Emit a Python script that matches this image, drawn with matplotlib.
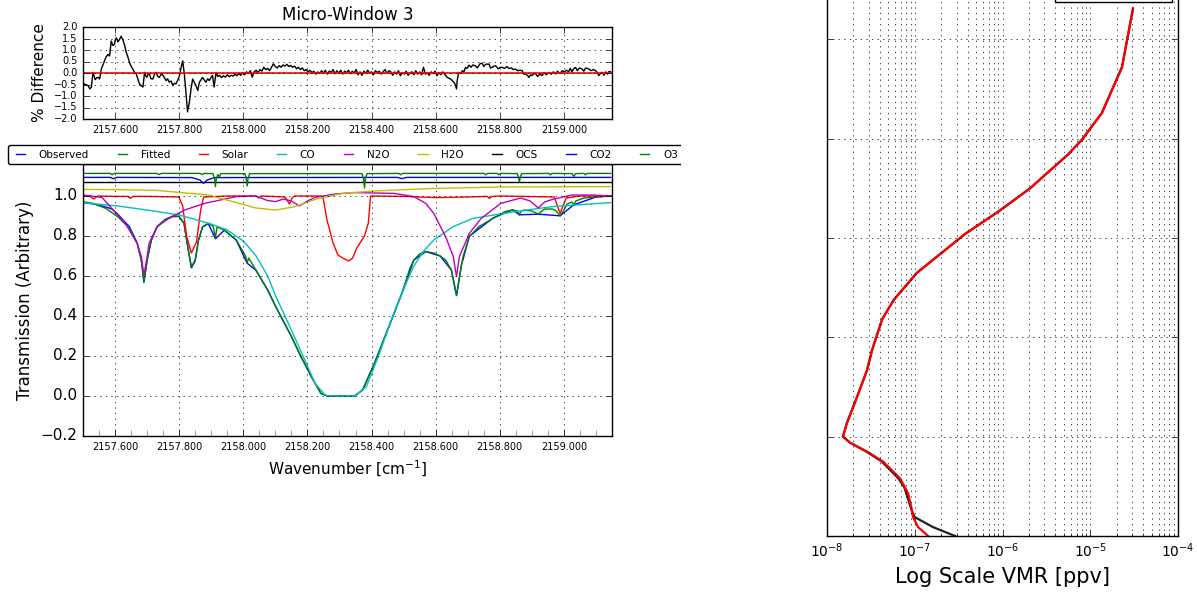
import matplotlib
matplotlib.use('Agg')
import matplotlib.pyplot as plt
from matplotlib.patches import Rectangle
from matplotlib.ticker import FormatStrFormatter, FuncFormatter, MultipleLocator

# Residual of the fit, percent
resid_wn = [
    2157.500, 2157.510, 2157.516, 2157.521, 2157.526, 2157.531, 2157.535,
    2157.538, 2157.543, 2157.547, 2157.552, 2157.557, 2157.562, 2157.567,
    2157.572, 2157.578, 2157.583, 2157.588, 2157.593, 2157.598, 2157.601,
    2157.604, 2157.609, 2157.614, 2157.619, 2157.622, 2157.624, 2157.630,
    2157.635, 2157.640, 2157.645, 2157.650, 2157.655, 2157.660, 2157.666,
    2157.671, 2157.676, 2157.681, 2157.687, 2157.692, 2157.695, 2157.699,
    2157.703, 2157.707, 2157.712, 2157.718, 2157.723, 2157.728, 2157.733,
    2157.738, 2157.744, 2157.749, 2157.754, 2157.759, 2157.764, 2157.769,
    2157.775, 2157.780, 2157.785, 2157.790, 2157.796, 2157.801, 2157.806,
    2157.811, 2157.816, 2157.821, 2157.826, 2157.832, 2157.837, 2157.842,
    2157.847, 2157.852, 2157.858, 2157.863, 2157.868, 2157.873, 2157.878,
    2157.883, 2157.889, 2157.894, 2157.899, 2157.904, 2157.909, 2157.915,
    2157.920, 2157.926, 2157.932, 2157.938, 2157.944, 2157.950, 2157.956,
    2157.962, 2157.968, 2157.974, 2157.980, 2157.986, 2157.992, 2157.998,
    2158.004, 2158.010, 2158.016, 2158.022, 2158.028, 2158.034, 2158.040,
    2158.046, 2158.052, 2158.058, 2158.064, 2158.070, 2158.076, 2158.082,
    2158.088, 2158.094, 2158.100, 2158.106, 2158.112, 2158.118, 2158.124,
    2158.130, 2158.136, 2158.142, 2158.148, 2158.154, 2158.160, 2158.166,
    2158.172, 2158.178, 2158.184, 2158.190, 2158.196, 2158.202, 2158.208,
    2158.214, 2158.220, 2158.226, 2158.232, 2158.238, 2158.244, 2158.250,
    2158.256, 2158.262, 2158.268, 2158.274, 2158.280, 2158.286, 2158.292,
    2158.298, 2158.304, 2158.310, 2158.316, 2158.322, 2158.328, 2158.334,
    2158.340, 2158.346, 2158.352, 2158.358, 2158.364, 2158.370, 2158.376,
    2158.382, 2158.388, 2158.394, 2158.400, 2158.406, 2158.412, 2158.418,
    2158.424, 2158.430, 2158.436, 2158.442, 2158.448, 2158.454, 2158.460,
    2158.466, 2158.472, 2158.478, 2158.484, 2158.490, 2158.496, 2158.502,
    2158.508, 2158.514, 2158.520, 2158.526, 2158.532, 2158.538, 2158.544,
    2158.550, 2158.556, 2158.562, 2158.568, 2158.574, 2158.580, 2158.586,
    2158.592, 2158.598, 2158.604, 2158.610, 2158.616, 2158.622, 2158.628,
    2158.636, 2158.645, 2158.652, 2158.660, 2158.665, 2158.667, 2158.672,
    2158.678, 2158.683, 2158.688, 2158.693, 2158.698, 2158.704, 2158.710,
    2158.716, 2158.724, 2158.730, 2158.738, 2158.745, 2158.750, 2158.756,
    2158.766, 2158.771, 2158.776, 2158.782, 2158.787, 2158.795, 2158.802,
    2158.808, 2158.815, 2158.822, 2158.828, 2158.836, 2158.842, 2158.849,
    2158.856, 2158.862, 2158.870, 2158.875, 2158.880, 2158.886, 2158.891,
    2158.896, 2158.901, 2158.906, 2158.912, 2158.918, 2158.924, 2158.932,
    2158.938, 2158.945, 2158.953, 2158.960, 2158.967, 2158.974, 2158.980,
    2158.988, 2158.995, 2159.002, 2159.008, 2159.015, 2159.020, 2159.025,
    2159.030, 2159.036, 2159.042, 2159.048, 2159.057, 2159.062, 2159.068,
    2159.078, 2159.085, 2159.092, 2159.099, 2159.104, 2159.109, 2159.114,
    2159.119, 2159.125, 2159.130, 2159.136, 2159.140, 2159.145]
resid_pct = [
    -0.47, -0.51, -0.55, -0.69, -0.62, 0.03, -0.15,
    -0.29, -0.20, -0.19, -0.26, 0.17, 0.35, 0.53,
    0.70, 0.81, 0.74, 1.39, 1.20, 1.24, 1.45,
    1.53, 1.35, 1.46, 1.60, 1.50, 1.46, 1.20,
    0.89, 0.70, 0.46, 0.30, 0.17, 0.05, -0.04,
    -0.25, -0.47, -0.55, -0.61, 0.03, -0.10, -0.19,
    -0.05, -0.04, -0.25, -0.26, -0.05, 0.03, -0.15,
    -0.19, -0.05, -0.09, -0.20, -0.33, -0.25, -0.40,
    -0.35, -0.54, -0.45, -0.47, -0.30, -0.11, 0.24,
    0.53, -0.04, -0.83, -1.69, -1.26, -0.69, -0.26,
    -0.40, -0.54, -0.76, -0.40, -0.30, -0.19, -0.30,
    -0.40, -0.25, -0.33, -0.20, -0.11, -0.61, 0.03,
    -0.15, -0.10, -0.20, -0.12, -0.18, -0.08, -0.16,
    -0.10, -0.14, -0.05, -0.12, -0.02, -0.10, 0.02,
    -0.08, 0.05, -0.02, 0.10, -0.18, 0.05, 0.12,
    0.00, 0.15, 0.08, 0.25, 0.15, 0.20, 0.10,
    0.25, 0.40, 0.28, 0.22, 0.32, 0.25, 0.35,
    0.30, 0.38, 0.28, 0.33, 0.25, 0.30, 0.18,
    0.25, 0.15, 0.22, 0.10, 0.15, 0.05, 0.12,
    0.02, 0.08, -0.05, 0.05, -0.02, 0.10, 0.00,
    0.12, -0.05, 0.08, 0.02, 0.15, -0.03, 0.10,
    0.00, 0.12, -0.05, 0.08, 0.02, 0.12, -0.03,
    0.08, 0.00, 0.15, -0.08, 0.05, -0.10, 0.08,
    -0.02, 0.12, 0.00, 0.05, -0.08, 0.10, 0.02,
    0.08, -0.05, 0.05, 0.15, -0.02, 0.10, 0.05,
    -0.10, 0.05, -0.05, 0.10, -0.12, 0.02, -0.05,
    0.08, -0.10, 0.00, 0.05, -0.08, 0.10, -0.05,
    0.05, -0.08, 0.25, -0.05, 0.02, -0.10, 0.05,
    -0.03, 0.08, -0.12, 0.02, -0.08, 0.05, -0.05,
    -0.19, -0.25, -0.33, -0.47, -0.69, -0.33, 0.03,
    -0.02, 0.10, 0.05, 0.24, 0.20, 0.34, 0.25,
    0.35, 0.31, 0.22, 0.40, 0.43, 0.28, 0.38,
    0.39, 0.22, 0.24, 0.30, 0.31, 0.18, 0.25,
    0.24, 0.20, 0.28, 0.20, 0.22, 0.15, 0.17,
    0.10, 0.12, 0.10, -0.05, -0.04, -0.10, -0.19,
    -0.08, -0.11, -0.02, -0.04, -0.15, -0.05, -0.11,
    0.02, -0.08, 0.03, -0.05, 0.05, -0.04, 0.08,
    -0.02, 0.10, 0.05, 0.12, 0.06, 0.20, 0.05,
    0.18, 0.24, 0.10, 0.22, 0.17, 0.08, 0.22,
    0.17, 0.10, 0.15, 0.10, 0.02, -0.11, -0.02,
    0.03, -0.10, 0.05, -0.05, 0.06, 0.06]

# Fitted spectrum
fit_wn = [
    2157.499, 2157.534, 2157.571, 2157.608, 2157.645, 2157.669, 2157.682,
    2157.690, 2157.700, 2157.713, 2157.731, 2157.756, 2157.780, 2157.799,
    2157.815, 2157.827, 2157.838, 2157.850, 2157.860, 2157.873, 2157.891,
    2157.906, 2157.913, 2157.918, 2157.941, 2157.978, 2158.007, 2158.012,
    2158.017, 2158.039, 2158.076, 2158.101, 2158.150, 2158.175, 2158.212,
    2158.242, 2158.261, 2158.347, 2158.372, 2158.409, 2158.458, 2158.495,
    2158.508, 2158.520, 2158.532, 2158.550, 2158.569, 2158.594, 2158.614,
    2158.631, 2158.649, 2158.659, 2158.665, 2158.671, 2158.680, 2158.686,
    2158.705, 2158.735, 2158.779, 2158.816, 2158.840, 2158.855, 2158.861,
    2158.866, 2158.877, 2158.900, 2158.920, 2158.940, 2158.964, 2158.976,
    2158.988, 2159.000, 2159.010, 2159.025, 2159.031, 2159.037, 2159.062,
    2159.100, 2159.146]
fit_trans = [
    0.972, 0.962, 0.938, 0.897, 0.838, 0.763, 0.680,
    0.572, 0.680, 0.780, 0.847, 0.883, 0.900, 0.900,
    0.863, 0.747, 0.647, 0.680, 0.780, 0.847, 0.863,
    0.848, 0.790, 0.845, 0.830, 0.780, 0.700, 0.665,
    0.690, 0.630, 0.530, 0.447, 0.297, 0.213, 0.097,
    0.013, 0.000, 0.000, 0.030, 0.163, 0.363, 0.515,
    0.580, 0.640, 0.680, 0.710, 0.722, 0.715, 0.700,
    0.680, 0.630, 0.550, 0.505, 0.560, 0.650, 0.700,
    0.797, 0.847, 0.888, 0.922, 0.930, 0.925, 0.905,
    0.925, 0.930, 0.925, 0.910, 0.935, 0.935, 0.925,
    0.900, 0.930, 0.960, 0.970, 0.955, 0.975, 0.990,
    0.995, 1.000]

# Observed spectrum
obs_wn = [
    2157.499, 2157.534, 2157.571, 2157.590, 2157.608, 2157.625, 2157.645,
    2157.669, 2157.682, 2157.690, 2157.700, 2157.713, 2157.731, 2157.756,
    2157.780, 2157.799, 2157.815, 2157.827, 2157.838, 2157.850, 2157.860,
    2157.873, 2157.891, 2157.913, 2157.941, 2157.978, 2158.012, 2158.039,
    2158.076, 2158.101, 2158.150, 2158.175, 2158.212, 2158.242, 2158.261,
    2158.347, 2158.372, 2158.409, 2158.458, 2158.495, 2158.532, 2158.569,
    2158.614, 2158.649, 2158.665, 2158.680, 2158.705, 2158.779, 2158.840,
    2158.861, 2158.920, 2158.988, 2159.031, 2159.100, 2159.146]
obs_trans = [
    0.967, 0.960, 0.945, 0.935, 0.910, 0.880, 0.846,
    0.765, 0.678, 0.568, 0.677, 0.778, 0.845, 0.881,
    0.897, 0.898, 0.864, 0.742, 0.641, 0.676, 0.777,
    0.845, 0.861, 0.786, 0.829, 0.779, 0.664, 0.630,
    0.530, 0.447, 0.298, 0.213, 0.097, 0.013, 0.000,
    0.000, 0.030, 0.163, 0.363, 0.515, 0.680, 0.722,
    0.700, 0.630, 0.502, 0.652, 0.799, 0.890, 0.931,
    0.906, 0.909, 0.901, 0.956, 0.995, 1.000]

solar_wn = [
    2157.499, 2157.520, 2157.534, 2157.545, 2157.600, 2157.640, 2157.648,
    2157.656, 2157.700, 2157.799, 2157.811, 2157.823, 2157.838, 2157.854,
    2157.867, 2157.876, 2157.950, 2158.040, 2158.048, 2158.056, 2158.130,
    2158.144, 2158.152, 2158.160, 2158.242, 2158.249, 2158.261, 2158.280,
    2158.295, 2158.310, 2158.329, 2158.341, 2158.354, 2158.366, 2158.378,
    2158.390, 2158.397, 2158.500, 2158.550, 2158.600, 2158.700, 2158.760,
    2158.768, 2158.776, 2158.800, 2158.970, 2158.988, 2159.007, 2159.050,
    2159.146]
solar_trans = [
    1.000, 1.000, 0.985, 1.000, 0.998, 0.998, 0.988,
    0.998, 0.998, 0.995, 0.950, 0.800, 0.715, 0.770,
    0.930, 0.995, 1.000, 1.000, 0.990, 1.000, 0.995,
    0.960, 0.990, 1.000, 1.000, 0.990, 0.880, 0.765,
    0.705, 0.690, 0.675, 0.690, 0.740, 0.770, 0.800,
    0.865, 1.000, 0.998, 0.995, 0.992, 0.995, 0.998,
    0.988, 0.998, 1.000, 0.995, 0.913, 0.990, 1.000,
    1.000]

co_wn = [
    2157.499, 2157.608, 2157.700, 2157.800, 2157.900, 2157.950, 2158.000,
    2158.040, 2158.076, 2158.101, 2158.150, 2158.187, 2158.224, 2158.255,
    2158.270, 2158.347, 2158.384, 2158.421, 2158.458, 2158.495, 2158.508,
    2158.532, 2158.560, 2158.594, 2158.655, 2158.716, 2158.840, 2158.964,
    2159.146]
co_trans = [
    0.967, 0.950, 0.930, 0.905, 0.860, 0.830, 0.775,
    0.700, 0.600, 0.500, 0.330, 0.197, 0.063, 0.005,
    0.000, 0.000, 0.047, 0.197, 0.363, 0.513, 0.565,
    0.650, 0.720, 0.780, 0.847, 0.888, 0.920, 0.947,
    0.967]

n2o_wn = [
    2157.499, 2157.559, 2157.632, 2157.669, 2157.682, 2157.690, 2157.700,
    2157.706, 2157.731, 2157.768, 2157.817, 2157.879, 2157.978, 2158.039,
    2158.076, 2158.101, 2158.125, 2158.150, 2158.175, 2158.200, 2158.224,
    2158.286, 2158.347, 2158.471, 2158.532, 2158.569, 2158.594, 2158.631,
    2158.655, 2158.665, 2158.674, 2158.705, 2158.742, 2158.803, 2158.865,
    2158.895, 2158.920, 2158.940, 2158.964, 2159.025, 2159.087, 2159.146]
n2o_trans = [
    1.005, 0.993, 0.863, 0.763, 0.697, 0.605, 0.697,
    0.763, 0.847, 0.888, 0.930, 0.963, 0.997, 1.000,
    0.977, 0.972, 0.985, 0.975, 0.950, 0.975, 0.993,
    1.010, 1.017, 1.013, 0.997, 0.963, 0.913, 0.797,
    0.697, 0.597, 0.697, 0.813, 0.888, 0.963, 0.990,
    0.975, 0.940, 0.970, 0.983, 1.005, 1.005, 1.000]

h2o_wn = [
    2157.499, 2157.600, 2157.731, 2157.800, 2157.891, 2157.978, 2158.039,
    2158.101, 2158.162, 2158.224, 2158.310, 2158.409, 2158.594, 2158.800,
    2159.146]
h2o_trans = [
    1.033, 1.032, 1.028, 1.018, 1.005, 0.967, 0.940,
    0.930, 0.947, 0.983, 1.013, 1.025, 1.038, 1.045,
    1.047]

ocs_wn = [2157.499, 2159.146]
ocs_trans = [1.072, 1.072]

co2_wn = [
    2157.499, 2157.585, 2157.595, 2157.605, 2157.840, 2157.865, 2157.876,
    2157.887, 2157.910, 2158.480, 2158.495, 2158.510, 2159.146]
co2_trans = [
    1.093, 1.093, 1.086, 1.093, 1.092, 1.080, 1.063,
    1.080, 1.092, 1.093, 1.087, 1.093, 1.093]

o3_wn = [
    2157.499, 2157.585, 2157.591, 2157.597, 2157.730, 2157.737, 2157.744,
    2157.866, 2157.872, 2157.878, 2157.905, 2157.910, 2157.913, 2157.916,
    2157.921, 2157.925, 2157.930, 2158.005, 2158.009, 2158.012, 2158.015,
    2158.020, 2158.370, 2158.375, 2158.378, 2158.381, 2158.386, 2158.486,
    2158.491, 2158.496, 2158.751, 2158.756, 2158.761, 2158.792, 2158.797,
    2158.802, 2158.855, 2158.858, 2158.861, 2158.864, 2158.868, 2158.953,
    2158.958, 2158.963, 2159.026, 2159.031, 2159.036, 2159.062, 2159.067,
    2159.072, 2159.146]
o3_trans = [
    1.113, 1.113, 1.106, 1.113, 1.113, 1.107, 1.113,
    1.113, 1.107, 1.113, 1.112, 1.090, 1.047, 1.090,
    1.108, 1.095, 1.112, 1.112, 1.090, 1.050, 1.090,
    1.112, 1.112, 1.090, 1.040, 1.090, 1.112, 1.113,
    1.106, 1.113, 1.113, 1.106, 1.113, 1.113, 1.106,
    1.113, 1.112, 1.095, 1.070, 1.095, 1.112, 1.113,
    1.106, 1.113, 1.112, 1.097, 1.112, 1.113, 1.106,
    1.113, 1.113]

# Spectral grid markers along the bottom of the transmission plot
grid_marks = [2157.55 + 0.05 * i for i in range(32)]

# OCS profile: altitude (km) and VMR (ppv)
alt_apriori = [0.0, 0.9, 1.9, 2.6, 4.3, 4.9, 5.8, 7.5, 8.5, 9.4, 10.0, 11.4,
               14.0, 16.7, 18.7, 21.8, 23.8, 26.5, 30.4, 32.7, 35.0, 38.4,
               39.9, 42.6, 47.2, 51.5, 53.1]
vmr_apriori = [2.88e-7, 1.61e-7, 1.0e-7, 9.2e-8, 8.0e-8, 7.6e-8, 6.5e-8,
               4.2e-8, 2.8e-8, 1.83e-8, 1.52e-8, 1.69e-8, 2.2e-8, 2.86e-8,
               3.26e-8, 4.24e-8, 5.8e-8, 1.06e-7, 3.74e-7, 9.1e-7, 2.06e-6,
               5.57e-6, 8.05e-6, 1.36e-5, 2.3e-5, 2.84e-5, 3.07e-5]
alt_retr = [0.0, 0.9, 1.9, 2.6, 4.3, 5.8, 7.5, 8.5, 9.4, 10.0, 11.4, 14.0,
            16.7, 18.7, 21.8, 23.8, 26.5, 30.4, 32.7, 35.0, 38.4, 39.9, 42.6,
            47.2, 51.5, 53.1]
vmr_retr = [1.42e-7, 1.09e-7, 9.55e-8, 9.3e-8, 8.4e-8, 6.8e-8, 4.35e-8,
            2.86e-8, 1.83e-8, 1.52e-8, 1.69e-8, 2.2e-8, 2.86e-8, 3.26e-8,
            4.24e-8, 5.8e-8, 1.06e-7, 3.74e-7, 9.1e-7, 2.06e-6, 5.57e-6,
            8.05e-6, 1.36e-5, 2.3e-5, 2.84e-5, 3.07e-5]


plt.style.use('classic')
plt.rcParams['figure.facecolor'] = 'white'
plt.rcParams['savefig.facecolor'] = 'white'

W, H = 1197., 599.
fig = plt.figure(figsize=(W / 100., H / 100.), dpi=100)

# one decimal, with a proper minus sign
one_dec = FuncFormatter(lambda v, pos: ('%.1f' % v).replace('-', '\u2212'))

def px_axes(left, top, right, bottom):
    return fig.add_axes([left / W, 1. - bottom / H,
                         (right - left) / W, (bottom - top) / H])

# Residual panel
ax1 = px_axes(83, 27, 612, 119)
ax1.plot(resid_wn, resid_pct, 'k-', lw=1)
ax1.axhline(0., color='r', lw=1.2)
ax1.set_xlim(2157.5, 2159.15)
ax1.set_ylim(-2., 2.)
ax1.xaxis.set_major_locator(MultipleLocator(0.2))
ax1.xaxis.set_major_formatter(FormatStrFormatter('%.3f'))
ax1.yaxis.set_major_locator(MultipleLocator(0.5))
ax1.yaxis.set_major_formatter(one_dec)
ax1.tick_params(labelsize=7)
ax1.grid(True)
ax1.set_ylabel('% Difference', fontsize=11)
ax1.set_title('Micro-Window 3', fontsize=12)

# Transmission panel
ax2 = px_axes(83, 164, 612, 436)
ax2.plot(obs_wn, obs_trans, 'b', label='Observed')
ax2.plot(fit_wn, fit_trans, 'g', label='Fitted')
ax2.plot(solar_wn, solar_trans, 'r', label='Solar')
ax2.plot(co_wn, co_trans, 'c', label='CO')
ax2.plot(n2o_wn, n2o_trans, 'm', label='N2O')
ax2.plot(h2o_wn, h2o_trans, 'y', label='H2O')
ax2.plot(ocs_wn, ocs_trans, 'k', label='OCS')
ax2.plot(co2_wn, co2_trans, 'b', label='CO2')
ax2.plot(o3_wn, o3_trans, 'g', label='O3')
ax2.plot(grid_marks, [0.] * len(grid_marks), '|', color='b', ms=8,
         alpha=0.6, transform=ax2.get_xaxis_transform())
ax2.set_xlim(2157.5, 2159.15)
ax2.set_ylim(-0.2, 1.16)
ax2.xaxis.set_major_locator(MultipleLocator(0.2))
ax2.xaxis.set_major_formatter(FormatStrFormatter('%.3f'))
ax2.yaxis.set_major_locator(MultipleLocator(0.2))
ax2.yaxis.set_major_formatter(one_dec)
ax2.tick_params(axis='x', labelsize=7)
ax2.tick_params(axis='y', labelsize=11)
ax2.grid(True)
ax2.set_xlabel(r'Wavenumber [cm$\mathdefault{^{-1}}$]', fontsize=11)
ax2.set_ylabel('Transmission (Arbitrary)', fontsize=12)
ax2.legend(loc='upper left', bbox_to_anchor=(8 / W, 1. - 145 / H),
           bbox_transform=fig.transFigure, ncol=9, fontsize=7.5,
           borderaxespad=0., borderpad=0.45, handlelength=1.5,
           handletextpad=1.0, columnspacing=2.45, fancybox=True)
# legend runs past the left figure area; blank out the overflow
fig.add_artist(Rectangle((681 / W, 1. - 172 / H), 134 / W, 34 / H,
                         transform=fig.transFigure, facecolor='white',
                         edgecolor='none', zorder=10))

# VMR profile panel
ax3 = px_axes(827, -60, 1178, 536)
ax3.plot(vmr_apriori, alt_apriori, color='#222222', lw=1.6, label='A Priori')
ax3.plot(vmr_retr, alt_retr, 'r', lw=1.6, label='Retrieved')
ax3.set_xscale('log')
ax3.set_xlim(1e-8, 1e-4)
ax3.set_ylim(0, 60)
ax3.yaxis.set_major_locator(MultipleLocator(10))
ax3.tick_params(labelleft=False)
ax3.tick_params(axis='x', labelsize=10)
ax3.grid(True, which='major')
ax3.grid(True, which='minor', axis='x')
ax3.set_xlabel('Log Scale VMR [ppv]', fontsize=15)
ax3.legend(loc='lower right', bbox_to_anchor=(0.983, 0.896),
           borderaxespad=0., borderpad=1.0, handlelength=1.0,
           handletextpad=0.6, fontsize=10, fancybox=False)

fig.savefig('out.png', dpi=100)
